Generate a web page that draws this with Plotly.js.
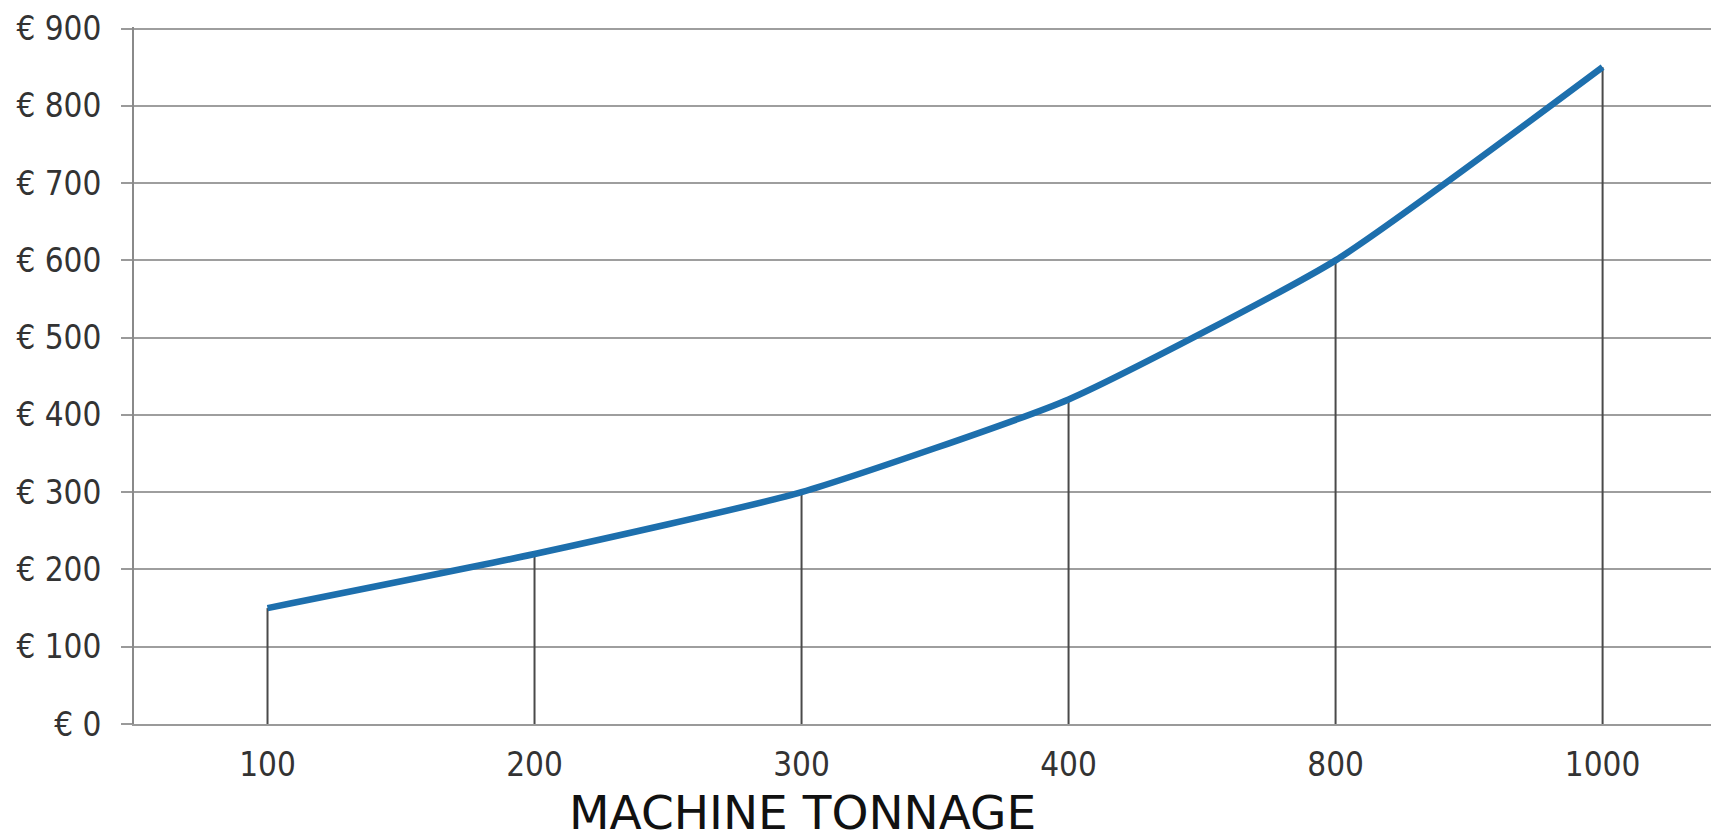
<!DOCTYPE html>
<html>
<head>
<meta charset="utf-8">
<script src="https://cdn.plot.ly/plotly-3.0.1.min.js"></script>
<style>html,body{margin:0;padding:0;background:#fff;}#chart{width:1711px;height:839px;}</style>
</head>
<body>
<div id="chart"></div>
<script>
const categories = ["100", "200", "300", "400", "800", "1000"];
const costValues = [150, 220, 300, 420, 600, 850];
const yTickValues = [0, 100, 200, 300, 400, 500, 600, 700, 800, 900];
const yTickLabels = ["€ 0", "€ 100", "€ 200", "€ 300", "€ 400", "€ 500", "€ 600", "€ 700", "€ 800", "€ 900"];
const xTitle = "MACHINE TONNAGE";

// drop lines from each point down to the axis
const dropX = [], dropY = [];
categories.forEach((c, i) => { dropX.push(c, c, null); dropY.push(0, costValues[i], null); });

const traces = [
  {x: dropX, y: dropY, mode: 'lines', line: {color: '#4a4a4a', width: 2}, hoverinfo: 'skip', showlegend: false},
  {x: categories, y: costValues, mode: 'lines', line: {color: '#1d6fad', width: 6.5, shape: 'spline', smoothing: 0.5}, showlegend: false}
];

const condensed = 'DejaVu Sans Condensed, DejaVu Sans, sans-serif';

const layout = {
  width: 1711, height: 839,
  margin: {l: 134, r: 0, t: 27, b: 115},
  paper_bgcolor: '#ffffff', plot_bgcolor: '#ffffff',
  font: {family: condensed, color: '#333333'},
  xaxis: {
    type: 'category', categoryorder: 'array', categoryarray: categories,
    range: [-0.5, 5.406],
    showgrid: false, zeroline: false,
    showline: true, linecolor: '#9a9a9a', linewidth: 2,
    ticks: '', tickfont: {size: 33, color: '#333333', family: condensed},
    ticklabelstandoff: 10
  },
  yaxis: {
    range: [0, 902], tickvals: yTickValues, ticktext: yTickLabels,
    showgrid: true, gridcolor: '#9e9e9e', gridwidth: 2,
    zeroline: false, showline: true, linecolor: '#8a8a8a', linewidth: 2,
    ticks: 'outside', ticklen: 11, tickcolor: '#9a9a9a', tickwidth: 2,
    tickfont: {size: 33, color: '#333333', family: condensed}, ticklabelstandoff: 13
  },
  annotations: [{
    text: xTitle, xref: 'paper', yref: 'paper', x: (802 - 134) / 1577, y: 0,
    xanchor: 'center', yanchor: 'middle', yshift: -88, showarrow: false,
    font: {size: 47, color: '#111111', family: 'DejaVu Sans, sans-serif'}
  }]
};

Plotly.newPlot('chart', traces, layout, {displayModeBar: false, staticPlot: true});
</script>
</body>
</html>
